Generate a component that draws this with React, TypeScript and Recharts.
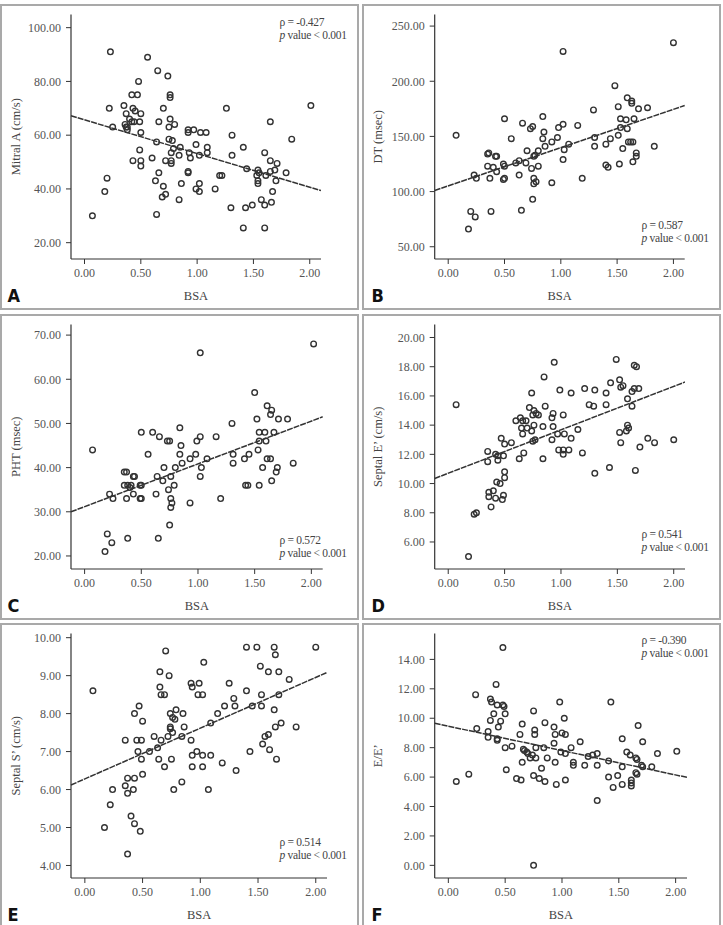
import React from "react";
import { ScatterChart, Scatter, XAxis, YAxis, ReferenceLine } from "recharts";

// [BSA, value] pairs
const mitralA: [number, number][] = [
  [0.07, 30], [0.18, 39], [0.2, 44], [0.22, 70], [0.23, 91], [0.25, 63], [0.35, 71], [0.36, 64],
  [0.37, 68], [0.37, 63], [0.38, 62], [0.38, 63], [0.4, 66], [0.42, 75], [0.42, 65], [0.43, 70],
  [0.43, 50.5], [0.44, 65], [0.45, 69], [0.47, 75], [0.48, 80], [0.49, 65], [0.49, 54.5], [0.5, 68],
  [0.5, 61], [0.5, 50.5], [0.5, 48.5], [0.56, 89], [0.6, 51.5], [0.63, 43], [0.64, 30.5], [0.64, 57.5],
  [0.65, 84], [0.66, 65], [0.66, 46], [0.69, 37], [0.7, 70], [0.7, 41], [0.72, 38], [0.72, 50.5],
  [0.74, 82], [0.75, 58.5], [0.75, 63], [0.76, 75], [0.76, 74], [0.76, 66], [0.77, 53.5], [0.77, 50.5],
  [0.77, 49.5], [0.78, 58], [0.79, 55], [0.8, 64], [0.84, 52.5], [0.84, 36], [0.85, 55.5], [0.86, 42],
  [0.92, 62], [0.92, 61], [0.92, 46.5], [0.92, 46], [0.93, 53.5], [0.94, 51.5], [0.97, 62], [0.99, 40],
  [0.99, 56.5], [1.02, 52.5], [1.02, 42], [1.02, 39], [1.03, 61], [1.08, 61], [1.09, 53.5], [1.09, 55.5],
  [1.16, 40], [1.2, 45], [1.22, 45], [1.26, 70], [1.3, 33], [1.31, 60], [1.31, 52.5], [1.41, 55.5],
  [1.41, 25.5], [1.43, 33], [1.44, 47.5], [1.49, 34], [1.53, 45], [1.54, 42], [1.54, 43], [1.54, 47],
  [1.55, 46], [1.57, 36], [1.6, 53.5], [1.6, 34], [1.6, 25.5], [1.61, 45], [1.65, 65], [1.65, 50.5],
  [1.65, 46.5], [1.66, 35], [1.67, 39], [1.69, 47], [1.7, 43], [1.71, 49.5], [1.79, 46], [1.84, 58.5],
  [2.01, 71],
];

const dt: [number, number][] = [
  [0.07, 151], [0.18, 66], [0.2, 82], [0.23, 115], [0.24, 77], [0.25, 112], [0.35, 123], [0.35, 134],
  [0.36, 135], [0.37, 112], [0.38, 82], [0.4, 122], [0.42, 132], [0.43, 132], [0.43, 118], [0.49, 125],
  [0.49, 111], [0.5, 112], [0.5, 123], [0.5, 166], [0.56, 148], [0.6, 126], [0.63, 128], [0.63, 115],
  [0.65, 83], [0.66, 162], [0.69, 126], [0.7, 137], [0.73, 157], [0.74, 121], [0.75, 159], [0.75, 93],
  [0.76, 132], [0.76, 112], [0.76, 107], [0.77, 133], [0.78, 109], [0.8, 137], [0.8, 123], [0.84, 148],
  [0.84, 168], [0.85, 154], [0.86, 141], [0.92, 108], [0.92, 145], [0.97, 149], [0.98, 158], [1.02, 227],
  [1.02, 161], [1.02, 129], [1.03, 138], [1.07, 143], [1.15, 160], [1.19, 112], [1.29, 174], [1.3, 149],
  [1.3, 141], [1.4, 124], [1.4, 143], [1.42, 122], [1.44, 148], [1.48, 196], [1.51, 177], [1.51, 151],
  [1.52, 125], [1.53, 166], [1.53, 158], [1.55, 139], [1.58, 165], [1.59, 185], [1.59, 157], [1.6, 145],
  [1.62, 145], [1.63, 182], [1.63, 180], [1.64, 127], [1.64, 145], [1.65, 166], [1.67, 132], [1.67, 135],
  [1.69, 175], [1.77, 176], [1.83, 141], [2.0, 235],
];

const pht: [number, number][] = [
  [0.07, 44], [0.18, 21], [0.2, 25], [0.22, 34], [0.24, 23], [0.25, 33], [0.35, 36], [0.35, 39],
  [0.37, 39], [0.37, 33], [0.38, 24], [0.38, 36], [0.4, 35.5], [0.41, 36], [0.43, 38], [0.44, 38],
  [0.43, 34], [0.49, 33], [0.49, 36], [0.5, 36], [0.5, 33], [0.5, 48], [0.56, 43], [0.6, 48],
  [0.63, 34], [0.64, 38], [0.65, 24], [0.66, 47], [0.69, 37], [0.7, 40], [0.73, 46], [0.74, 35],
  [0.75, 46], [0.75, 27], [0.76, 38], [0.76, 33], [0.76, 31], [0.77, 32], [0.79, 36], [0.8, 40],
  [0.84, 43], [0.84, 49], [0.85, 45], [0.86, 41], [0.93, 42], [0.93, 32], [0.98, 43], [0.99, 46],
  [1.02, 66], [1.02, 47], [1.02, 38], [1.03, 40], [1.08, 42], [1.16, 47], [1.2, 33], [1.3, 50],
  [1.31, 43], [1.31, 41], [1.41, 42], [1.42, 36], [1.44, 36], [1.45, 43], [1.5, 57], [1.52, 51],
  [1.53, 44], [1.54, 48], [1.54, 46], [1.54, 36], [1.57, 40], [1.59, 48], [1.6, 46], [1.61, 54],
  [1.61, 42], [1.64, 42], [1.64, 52], [1.65, 53], [1.65, 37], [1.67, 48], [1.69, 39], [1.7, 40],
  [1.71, 51], [1.79, 51], [1.84, 41], [2.02, 68],
];

const septalE: [number, number][] = [
  [0.07, 15.4], [0.18, 5.0], [0.23, 7.9], [0.25, 8.0], [0.35, 12.2], [0.35, 11.5], [0.36, 9.4], [0.36, 9.1],
  [0.38, 8.4], [0.4, 9.5], [0.42, 12.0], [0.42, 9.0], [0.43, 10.1], [0.44, 11.6], [0.44, 11.9], [0.46, 10.0],
  [0.47, 13.1], [0.48, 8.9], [0.49, 9.2], [0.49, 11.9], [0.5, 12.7], [0.5, 10.8], [0.5, 10.4], [0.56, 12.8],
  [0.6, 14.3], [0.63, 11.7], [0.64, 14.5], [0.65, 13.8], [0.66, 14.3], [0.66, 13.4], [0.67, 12.1], [0.69, 14.3],
  [0.7, 13.8], [0.72, 15.2], [0.74, 16.2], [0.74, 13.6], [0.75, 14.7], [0.75, 12.9], [0.76, 15.0], [0.76, 14.0],
  [0.77, 13.0], [0.78, 14.8], [0.8, 14.7], [0.84, 13.9], [0.84, 11.7], [0.85, 17.3], [0.86, 15.3], [0.92, 14.5],
  [0.92, 13.0], [0.93, 14.8], [0.93, 13.9], [0.94, 18.3], [0.97, 13.4], [0.98, 12.3], [0.99, 16.4], [1.02, 14.7],
  [1.02, 12.3], [1.02, 12.0], [1.03, 13.4], [1.07, 12.3], [1.09, 16.2], [1.09, 13.1], [1.15, 13.7], [1.19, 12.1],
  [1.21, 16.5], [1.25, 15.4], [1.29, 15.3], [1.3, 16.4], [1.3, 10.7], [1.4, 16.2], [1.4, 15.4], [1.43, 11.1],
  [1.44, 16.9], [1.49, 18.5], [1.52, 17.1], [1.52, 13.5], [1.53, 16.6], [1.53, 12.8], [1.55, 16.7], [1.58, 13.6],
  [1.59, 15.8], [1.59, 14.0], [1.6, 13.8], [1.63, 16.3], [1.63, 15.3], [1.65, 18.1], [1.65, 16.5], [1.66, 10.9],
  [1.67, 18.0], [1.69, 16.5], [1.7, 12.5], [1.77, 13.1], [1.83, 12.8], [2.0, 13.0],
];

const septalS: [number, number][] = [
  [0.07, 8.6], [0.17, 5.0], [0.22, 5.6], [0.24, 6.0], [0.35, 7.3], [0.35, 6.1], [0.37, 6.3], [0.37, 5.9],
  [0.37, 4.3], [0.4, 5.3], [0.42, 6.0], [0.43, 8.0], [0.43, 6.3], [0.43, 5.1], [0.45, 7.3], [0.46, 7.0],
  [0.47, 8.2], [0.48, 4.9], [0.49, 7.3], [0.49, 6.8], [0.5, 7.8], [0.5, 6.4], [0.56, 7.0], [0.6, 7.4],
  [0.63, 7.1], [0.64, 6.8], [0.65, 9.1], [0.65, 8.7], [0.66, 8.5], [0.66, 7.3], [0.69, 8.5], [0.69, 6.6],
  [0.7, 9.65], [0.72, 7.4], [0.73, 9.0], [0.74, 8.0], [0.74, 7.65], [0.74, 7.6], [0.75, 6.8], [0.76, 7.9],
  [0.76, 7.5], [0.77, 6.0], [0.78, 7.85], [0.79, 8.1], [0.84, 7.4], [0.84, 6.2], [0.85, 8.0], [0.86, 7.65],
  [0.92, 8.8], [0.92, 7.3], [0.93, 8.7], [0.93, 6.9], [0.93, 6.6], [0.97, 7.0], [0.98, 8.5], [0.99, 8.8],
  [1.02, 8.5], [1.02, 6.9], [1.02, 6.6], [1.03, 9.35], [1.07, 6.0], [1.09, 7.75], [1.09, 6.9], [1.15, 8.0],
  [1.19, 6.7], [1.21, 8.2], [1.25, 8.8], [1.29, 8.4], [1.3, 8.2], [1.31, 6.5], [1.4, 9.75], [1.4, 8.6],
  [1.43, 7.0], [1.45, 8.2], [1.49, 9.75], [1.52, 9.25], [1.53, 8.5], [1.53, 8.2], [1.54, 7.2], [1.56, 7.4],
  [1.59, 9.1], [1.59, 7.45], [1.6, 7.05], [1.64, 9.75], [1.65, 9.55], [1.64, 8.1], [1.65, 7.65], [1.66, 6.8],
  [1.68, 9.1], [1.68, 8.5], [1.7, 7.75], [1.77, 8.9], [1.83, 7.65], [2.0, 9.75],
];

const eOverE: [number, number][] = [
  [0.07, 5.7], [0.18, 6.2], [0.24, 11.6], [0.25, 9.3], [0.35, 9.1], [0.35, 8.7], [0.37, 11.3], [0.37, 9.85],
  [0.38, 11.1], [0.4, 10.3], [0.42, 12.3], [0.43, 10.9], [0.43, 8.6], [0.43, 8.5], [0.44, 9.4], [0.46, 9.8],
  [0.48, 14.8], [0.48, 10.9], [0.49, 10.8], [0.5, 10.3], [0.5, 8.0], [0.51, 6.5], [0.56, 8.1], [0.6, 5.9],
  [0.63, 8.9], [0.64, 5.8], [0.65, 9.6], [0.65, 7.0], [0.66, 7.9], [0.67, 7.8], [0.69, 7.7], [0.7, 7.6],
  [0.72, 7.3], [0.74, 7.5], [0.75, 10.5], [0.75, 6.1], [0.75, 0.0], [0.76, 9.2], [0.76, 8.9], [0.77, 8.0],
  [0.77, 7.3], [0.8, 5.9], [0.82, 6.6], [0.84, 8.0], [0.85, 9.7], [0.85, 5.7], [0.87, 7.3], [0.93, 9.4],
  [0.93, 8.3], [0.94, 8.9], [0.94, 7.0], [0.95, 5.5], [0.98, 11.1], [0.99, 7.7], [1.0, 9.0], [1.02, 10.0],
  [1.03, 8.9], [1.03, 7.6], [1.03, 5.8], [1.08, 8.0], [1.1, 7.0], [1.1, 6.8], [1.16, 8.4], [1.2, 6.8],
  [1.23, 7.4], [1.27, 7.5], [1.31, 7.6], [1.31, 6.8], [1.31, 4.4], [1.41, 7.1], [1.41, 6.0], [1.43, 11.1],
  [1.45, 5.3], [1.49, 6.1], [1.53, 8.6], [1.53, 6.7], [1.53, 5.5], [1.57, 7.7], [1.6, 7.5], [1.61, 5.8],
  [1.61, 5.6], [1.61, 5.4], [1.65, 7.3], [1.65, 6.3], [1.66, 7.2], [1.66, 6.2], [1.67, 9.5], [1.7, 6.8],
  [1.71, 6.7], [1.71, 8.4], [1.79, 6.7], [1.84, 7.6], [2.01, 7.75],
];

// regression line end points [bsa, value]
const fitMitralA = [[-0.12, 67.2], [2.1, 39.4]];
const fitDt = [[-0.12, 101], [2.1, 178]];
const fitPht = [[-0.12, 30], [2.1, 51.5]];
const fitSeptalE = [[-0.12, 10.35], [2.1, 16.95]];
const fitSeptalS = [[-0.12, 6.12], [2.11, 9.1]];
const fitEOverE = [[-0.12, 9.66], [2.1, 5.98]];

const bsaTicks = [0, 0.5, 1, 1.5, 2];
const mitralATicks = [20, 40, 60, 80, 100];
const dtTicks = [50, 100, 150, 200, 250];
const phtTicks = [20, 30, 40, 50, 60, 70];
const septalETicks = [6, 8, 10, 12, 14, 16, 18, 20];
const septalSTicks = [4, 5, 6, 7, 8, 9, 10];
const eOverETicks = [0, 2, 4, 6, 8, 10, 12, 14];

const rowTops = [4, 314, 623];
const colLefts = [0, 362];

const panels = [
  { letter: "A", row: 0, col: 0, yLabel: "Mitral A (cm/s)", data: mitralA, fit: fitMitralA, yDomain: [13.93, 104.9], yTicks: mitralATicks, rho: "-0.427", statTop: 12, plotRight: 321 },
  { letter: "B", row: 0, col: 1, yLabel: "DT (msec)", data: dt, fit: fitDt, yDomain: [38.9, 260.5], yTicks: dtTicks, rho: "0.587", statTop: 215, plotRight: 322.7 },
  { letter: "C", row: 1, col: 0, yLabel: "PHT (msec)", data: pht, fit: fitPht, yDomain: [17.05, 72.4], yTicks: phtTicks, rho: "0.572", statTop: 219.5, plotRight: 322.7 },
  { letter: "D", row: 1, col: 1, yLabel: "Septal E’ (cm/s)", data: septalE, fit: fitSeptalE, yDomain: [4.15, 20.89], yTicks: septalETicks, rho: "0.541", statTop: 214, plotRight: 323 },
  { letter: "E", row: 2, col: 0, yLabel: "Septal S’ (cm/s)", data: septalS, fit: fitSeptalS, yDomain: [3.67, 10.11], yTicks: septalSTicks, rho: "0.514", statTop: 213, plotRight: 327.3 },
  { letter: "F", row: 2, col: 1, yLabel: "E/E’", data: eOverE, fit: fitEOverE, yDomain: [-0.86, 15.76], yTicks: eOverETicks, rho: "-0.390", statTop: 10.5, plotRight: 325 },
];

const serif = "'Liberation Serif', 'Times New Roman', serif";
const ink = "#333";
const textGray = "#555";

const Dot = (props: any) => (
  <circle cx={props.cx} cy={props.cy} r={2.8} fill="#fff" fillOpacity={0} stroke={ink} strokeWidth={1.4} />
);

const YTitle = (text: string) => (props: any) => {
  const vb = props.viewBox || {};
  const cx = 16;
  const cy = (vb.y ?? 0) + (vb.height ?? 0) / 2;
  return (
    <text x={cx} y={cy} transform={`rotate(-90, ${cx}, ${cy})`} textAnchor="middle" dominantBaseline="central"
      fill="#444" fontSize={12.5} fontFamily={serif}>{text}</text>
  );
};

const XTitle = (props: any) => {
  const vb = props.viewBox || {};
  const cx = (vb.x ?? 0) + (vb.width ?? 0) / 2;
  const cy = (vb.y ?? 0) + 37;
  return (
    <text x={cx} y={cy} textAnchor="middle" dominantBaseline="central" fill="#444" fontSize={12.5} fontFamily={serif}>BSA</text>
  );
};

function Panel({ p }: { p: (typeof panels)[number] }) {
  const left = colLefts[p.col];
  const top = rowTops[p.row];
  const yAxisWidth = p.col === 0 ? 71 : 72.7;
  const points = p.data.map(([bsa, value]) => ({ bsa, value }));
  const fmt = (v: number) => v.toFixed(2);
  return (
    <>
      <div style={{ position: "absolute", left, top, width: 359, height: 306, boxSizing: "border-box", border: "2px solid #a9a9a9" }} />
      <div style={{ position: "absolute", left, top }}>
        <ScatterChart width={p.plotRight} height={305} margin={{ top: 10.5, right: 0, bottom: 0, left: 0 }}>
          <XAxis type="number" dataKey="bsa" domain={[-0.12, 2.1]} ticks={bsaTicks} allowDataOverflow
            tickFormatter={fmt} height={50} tickSize={5} tickMargin={4}
            axisLine={{ stroke: ink, strokeWidth: 1.2 }} tickLine={{ stroke: ink }}
            tick={{ fill: textGray, fontSize: 12, fontFamily: serif }} label={XTitle} />
          <YAxis type="number" dataKey="value" domain={p.yDomain} ticks={p.yTicks} allowDataOverflow
            tickFormatter={fmt} width={yAxisWidth} tickSize={5} tickMargin={5}
            axisLine={{ stroke: ink, strokeWidth: 1.2 }} tickLine={{ stroke: ink }}
            tick={{ fill: textGray, fontSize: 12, fontFamily: serif }} label={YTitle(p.yLabel)} />
          <ReferenceLine segment={[{ x: p.fit[0][0], y: p.fit[0][1] }, { x: p.fit[1][0], y: p.fit[1][1] }]}
            stroke="#333" strokeWidth={1.5} strokeDasharray="6 1" ifOverflow="visible" />
          <Scatter data={points} shape={Dot} isAnimationActive={false} />
        </ScatterChart>
      </div>
      <div style={{ position: "absolute", left: left + 279.5, top: top + p.statTop, fontFamily: serif, fontSize: 11.5, letterSpacing: "-0.3px", lineHeight: "13px", color: "#444", whiteSpace: "nowrap" }}>
        <div>ρ = {p.rho}</div>
        <div><i>p</i> value &lt; 0.001</div>
      </div>
      <div style={{ position: "absolute", left: left + (p.col === 0 ? 7.5 : 9.5), top: top + 281, fontFamily: "'Liberation Sans Narrow', 'DejaVu Sans Condensed', 'Liberation Sans', sans-serif", fontWeight: 700, fontSize: 18, color: "#111" }}>
        {p.letter}
      </div>
    </>
  );
}

export default function App() {
  return (
    <div style={{ position: "absolute", left: 0, top: 0, width: 723, height: 925, background: "#fff", overflow: "hidden" }}>
      {panels.map((p) => (
        <Panel key={p.letter} p={p} />
      ))}
    </div>
  );
}
